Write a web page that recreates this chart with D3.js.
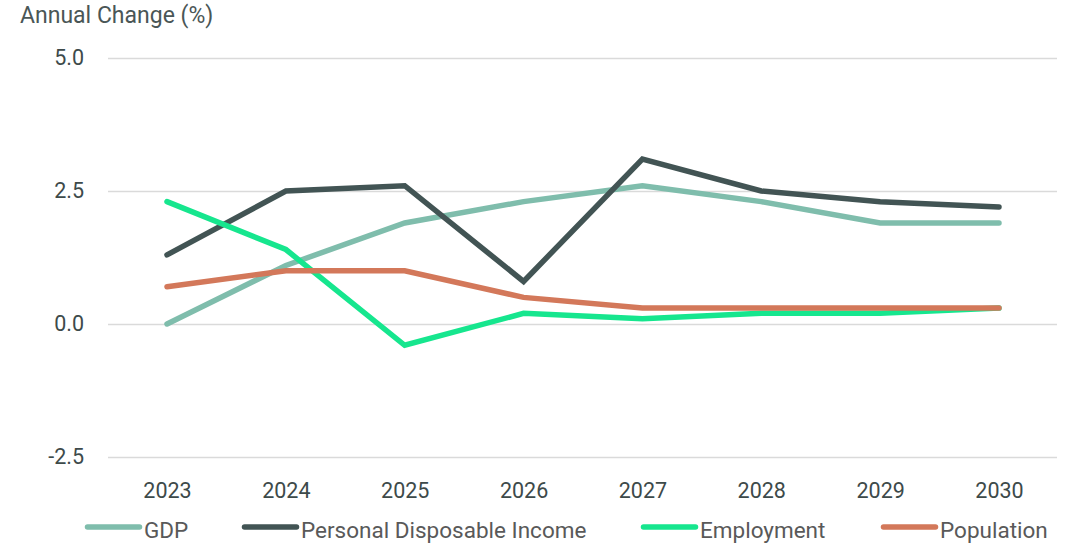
<!DOCTYPE html>
<html>
<head>
<meta charset="utf-8">
<script src="https://cdn.jsdelivr.net/npm/d3@7"></script>
<style>
  html, body { margin: 0; padding: 0; background: #fff; }
  svg { display: block; font-family: Roboto, "Noto Sans", sans-serif; }
</style>
</head>
<body>
<svg id="chart" width="1076" height="543"></svg>
<script>
const years = ["2023", "2024", "2025", "2026", "2027", "2028", "2029", "2030"];
const gdp        = [0.0, 1.1, 1.9, 2.3, 2.6, 2.3, 1.9, 1.9];
const income     = [1.3, 2.5, 2.6, 0.8, 3.1, 2.5, 2.3, 2.2];
const employment = [2.3, 1.4, -0.4, 0.2, 0.1, 0.2, 0.2, 0.3];
const population = [0.7, 1.0, 1.0, 0.5, 0.3, 0.3, 0.3, 0.3];
const yTicks = [-2.5, 0.0, 2.5, 5.0];

const series = [
  { name: "GDP", values: gdp, color: "#7fbdac" },
  { name: "Personal Disposable Income", values: income, color: "#425454" },
  { name: "Employment", values: employment, color: "#16e68e" },
  { name: "Population", values: population, color: "#d3785a" }
];

const svg = d3.select("#chart");
const plotLeft = 108, plotRight = 1057, plotTop = 58, plotBottom = 457;

const x = d3.scalePoint().domain(years).range([167, 999]);
const y = d3.scaleLinear().domain([-2.5, 5.0]).range([plotBottom, plotTop]);

// horizontal grid + y labels (plain hyphen for negatives)
const yAxis = d3.axisLeft(y).tickValues(yTicks).tickFormat(d => d.toFixed(1))
  .tickSize(-(plotRight - plotLeft)).tickPadding(24);
const gy = svg.append("g").attr("transform", `translate(${plotLeft},0)`).call(yAxis);
gy.select(".domain").remove();
gy.selectAll(".tick line").attr("stroke", "#dadada").attr("stroke-width", 1.5);
gy.selectAll(".tick text").attr("fill", "#3d4a4a").attr("font-size", 21.5)
  .attr("font-family", "Roboto, sans-serif");

// x labels
const xAxis = d3.axisBottom(x).tickSize(0).tickPadding(0);
const gx = svg.append("g").attr("transform", "translate(0,498)").call(xAxis);
gx.select(".domain").remove();
gx.selectAll(".tick text").attr("fill", "#3d4a4a").attr("font-size", 21.5)
  .attr("dy", 0).attr("font-family", "Roboto, sans-serif");

// axis title
svg.append("text").attr("x", 20).attr("y", 23).attr("fill", "#4a5656")
  .attr("font-size", 23).text("Annual Change (%)");

// lines
const line = d3.line().x((d, i) => x(years[i])).y(d => y(d));
svg.append("g").selectAll("path").data(series).join("path")
  .attr("d", d => line(d.values))
  .attr("fill", "none")
  .attr("stroke", d => d.color)
  .attr("stroke-width", 5.5)
  .attr("stroke-linecap", "round")
  .attr("stroke-linejoin", "miter");

// legend
const legendX = [85, 242, 641, 881];
const legend = svg.append("g");
const items = legend.selectAll("g").data(series).join("g")
  .attr("transform", (d, i) => `translate(${legendX[i]},0)`);
items.append("line").attr("x1", 2.5).attr("x2", 54.5).attr("y1", 527).attr("y2", 527)
  .attr("stroke", d => d.color).attr("stroke-width", 5.5).attr("stroke-linecap", "round");
items.append("text").attr("x", 59).attr("y", 538)
  .attr("fill", "#595959").attr("font-size", 22.5).text(d => d.name);
</script>
</body>
</html>
